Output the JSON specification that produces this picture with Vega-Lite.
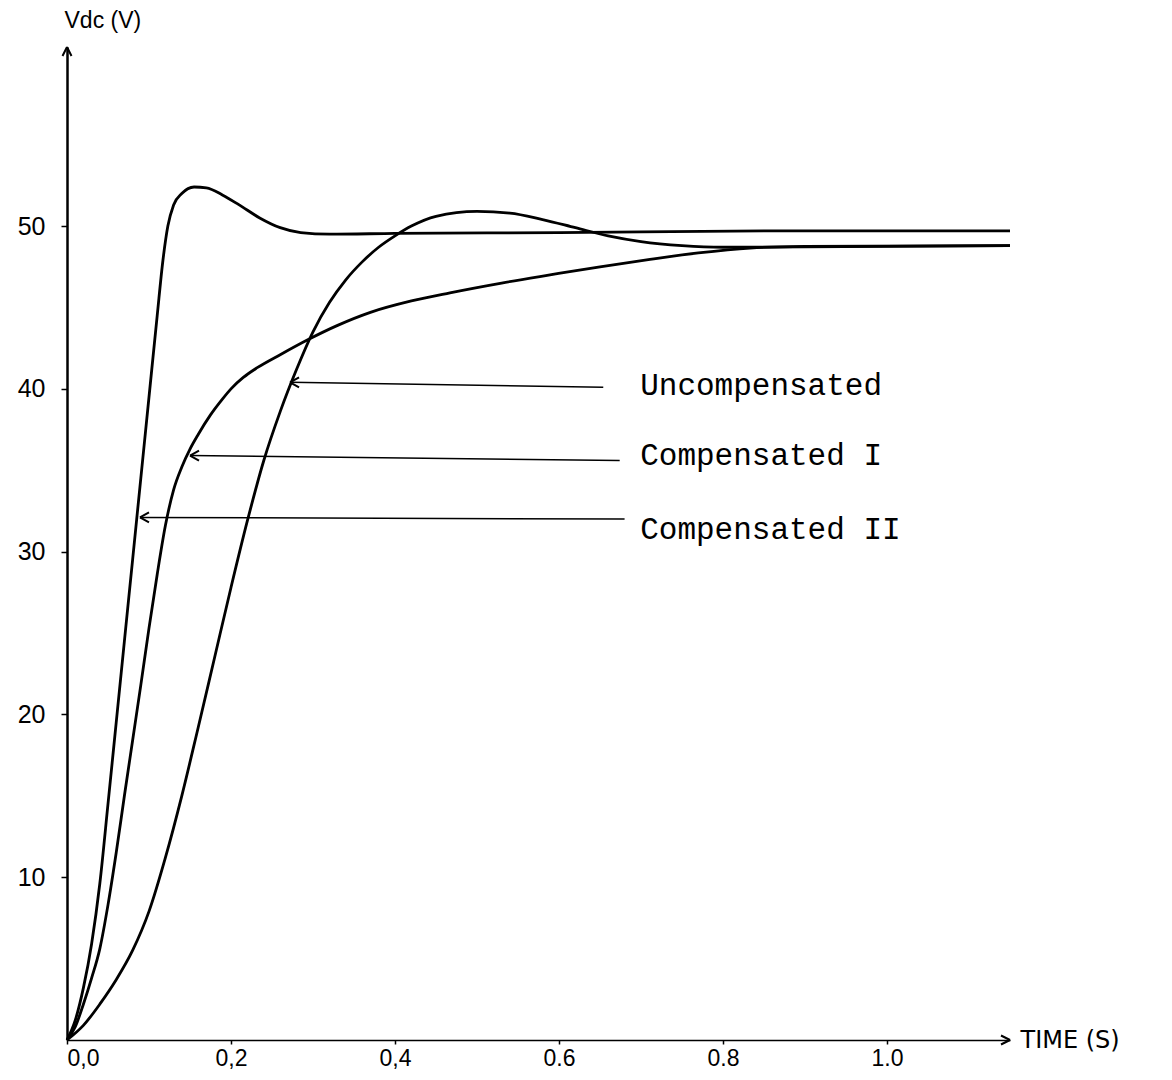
{
  "$schema": "https://vega.github.io/schema/vega-lite/v6.json",
  "width": 943,
  "height": 993,
  "autosize": {"type": "none"},
  "padding": {"left": 67, "top": 47, "right": 162, "bottom": 40},
  "background": "white",
  "config": {"view": {"stroke": null}, "axis": {"grid": false}},
  "datasets": {
    "curves": [
      {"series": "Compensated II", "t": 0, "v": 0},
      {"series": "Compensated II", "t": 0.010, "v": 1.2},
      {"series": "Compensated II", "t": 0.020, "v": 3.2},
      {"series": "Compensated II", "t": 0.030, "v": 5.9},
      {"series": "Compensated II", "t": 0.040, "v": 9.6},
      {"series": "Compensated II", "t": 0.050, "v": 14.5},
      {"series": "Compensated II", "t": 0.060, "v": 19.5},
      {"series": "Compensated II", "t": 0.070, "v": 24.5},
      {"series": "Compensated II", "t": 0.080, "v": 29.5},
      {"series": "Compensated II", "t": 0.090, "v": 34.5},
      {"series": "Compensated II", "t": 0.100, "v": 39.5},
      {"series": "Compensated II", "t": 0.110, "v": 44.5},
      {"series": "Compensated II", "t": 0.117, "v": 47.9},
      {"series": "Compensated II", "t": 0.123, "v": 50.0},
      {"series": "Compensated II", "t": 0.130, "v": 51.3},
      {"series": "Compensated II", "t": 0.140, "v": 52.0},
      {"series": "Compensated II", "t": 0.155, "v": 52.4},
      {"series": "Compensated II", "t": 0.170, "v": 52.35},
      {"series": "Compensated II", "t": 0.190, "v": 51.9},
      {"series": "Compensated II", "t": 0.210, "v": 51.3},
      {"series": "Compensated II", "t": 0.235, "v": 50.5},
      {"series": "Compensated II", "t": 0.260, "v": 49.9},
      {"series": "Compensated II", "t": 0.285, "v": 49.6},
      {"series": "Compensated II", "t": 0.320, "v": 49.5},
      {"series": "Compensated II", "t": 0.400, "v": 49.55},
      {"series": "Compensated II", "t": 0.600, "v": 49.6},
      {"series": "Compensated II", "t": 0.850, "v": 49.7},
      {"series": "Compensated II", "t": 1.150, "v": 49.7},
      {"series": "Compensated I", "t": 0, "v": 0},
      {"series": "Compensated I", "t": 0.010, "v": 0.8},
      {"series": "Compensated I", "t": 0.020, "v": 2.2},
      {"series": "Compensated I", "t": 0.030, "v": 3.8},
      {"series": "Compensated I", "t": 0.040, "v": 5.6},
      {"series": "Compensated I", "t": 0.050, "v": 8.3},
      {"series": "Compensated I", "t": 0.060, "v": 11.5},
      {"series": "Compensated I", "t": 0.070, "v": 15.0},
      {"series": "Compensated I", "t": 0.080, "v": 18.4},
      {"series": "Compensated I", "t": 0.090, "v": 21.8},
      {"series": "Compensated I", "t": 0.100, "v": 25.3},
      {"series": "Compensated I", "t": 0.110, "v": 28.6},
      {"series": "Compensated I", "t": 0.120, "v": 31.6},
      {"series": "Compensated I", "t": 0.130, "v": 33.8},
      {"series": "Compensated I", "t": 0.140, "v": 35.2},
      {"series": "Compensated I", "t": 0.150, "v": 36.3},
      {"series": "Compensated I", "t": 0.160, "v": 37.2},
      {"series": "Compensated I", "t": 0.175, "v": 38.4},
      {"series": "Compensated I", "t": 0.190, "v": 39.4},
      {"series": "Compensated I", "t": 0.200, "v": 40.0},
      {"series": "Compensated I", "t": 0.215, "v": 40.7},
      {"series": "Compensated I", "t": 0.232, "v": 41.3},
      {"series": "Compensated I", "t": 0.260, "v": 42.1},
      {"series": "Compensated I", "t": 0.293, "v": 43.0},
      {"series": "Compensated I", "t": 0.330, "v": 43.9},
      {"series": "Compensated I", "t": 0.370, "v": 44.7},
      {"series": "Compensated I", "t": 0.420, "v": 45.4},
      {"series": "Compensated I", "t": 0.467, "v": 45.9},
      {"series": "Compensated I", "t": 0.530, "v": 46.5},
      {"series": "Compensated I", "t": 0.589, "v": 47.0},
      {"series": "Compensated I", "t": 0.650, "v": 47.5},
      {"series": "Compensated I", "t": 0.711, "v": 47.95},
      {"series": "Compensated I", "t": 0.770, "v": 48.35},
      {"series": "Compensated I", "t": 0.833, "v": 48.65},
      {"series": "Compensated I", "t": 0.900, "v": 48.75},
      {"series": "Compensated I", "t": 1.150, "v": 48.8},
      {"series": "Uncompensated", "t": 0, "v": 0},
      {"series": "Uncompensated", "t": 0.020, "v": 0.9},
      {"series": "Uncompensated", "t": 0.040, "v": 2.2},
      {"series": "Uncompensated", "t": 0.060, "v": 3.7},
      {"series": "Uncompensated", "t": 0.080, "v": 5.5},
      {"series": "Uncompensated", "t": 0.100, "v": 7.9},
      {"series": "Uncompensated", "t": 0.120, "v": 11.2},
      {"series": "Uncompensated", "t": 0.140, "v": 15.0},
      {"series": "Uncompensated", "t": 0.160, "v": 19.2},
      {"series": "Uncompensated", "t": 0.180, "v": 23.5},
      {"series": "Uncompensated", "t": 0.200, "v": 27.8},
      {"series": "Uncompensated", "t": 0.220, "v": 31.9},
      {"series": "Uncompensated", "t": 0.240, "v": 35.6},
      {"series": "Uncompensated", "t": 0.260, "v": 38.6},
      {"series": "Uncompensated", "t": 0.280, "v": 41.2},
      {"series": "Uncompensated", "t": 0.300, "v": 43.5},
      {"series": "Uncompensated", "t": 0.320, "v": 45.3},
      {"series": "Uncompensated", "t": 0.340, "v": 46.7},
      {"series": "Uncompensated", "t": 0.360, "v": 47.8},
      {"series": "Uncompensated", "t": 0.380, "v": 48.7},
      {"series": "Uncompensated", "t": 0.400, "v": 49.4},
      {"series": "Uncompensated", "t": 0.420, "v": 50.0},
      {"series": "Uncompensated", "t": 0.450, "v": 50.6},
      {"series": "Uncompensated", "t": 0.500, "v": 50.9},
      {"series": "Uncompensated", "t": 0.540, "v": 50.8},
      {"series": "Uncompensated", "t": 0.580, "v": 50.4},
      {"series": "Uncompensated", "t": 0.620, "v": 49.9},
      {"series": "Uncompensated", "t": 0.660, "v": 49.4},
      {"series": "Uncompensated", "t": 0.700, "v": 49.05},
      {"series": "Uncompensated", "t": 0.750, "v": 48.8},
      {"series": "Uncompensated", "t": 0.800, "v": 48.7},
      {"series": "Uncompensated", "t": 1.150, "v": 48.8}
    ],
    "notes": [
      {"label": "Uncompensated", "t": 0.699, "v": 40.2},
      {"label": "Compensated I", "t": 0.699, "v": 35.9},
      {"label": "Compensated II", "t": 0.699, "v": 31.3}
    ],
    "leaders": [
      {"t": 0.654, "v": 40.1, "t2": 0.272, "v2": 40.4},
      {"t": 0.674, "v": 35.6, "t2": 0.150, "v2": 35.9},
      {"t": 0.680, "v": 32.0, "t2": 0.089, "v2": 32.1}
    ],
    "heads": [
      {"t": 0.272, "v": 40.4, "dir": "left"},
      {"t": 0.150, "v": 35.9, "dir": "left"},
      {"t": 0.089, "v": 32.1, "dir": "left"},
      {"t": 0, "v": 61, "dir": "up"},
      {"t": 1.15, "v": 0, "dir": "right"}
    ]
  },
  "layer": [
    {
      "data": {"name": "curves"},
      "mark": {"type": "line", "interpolate": "monotone", "strokeWidth": 2.8, "color": "black", "clip": false},
      "encoding": {
        "x": {
          "field": "t", "type": "quantitative",
          "scale": {"domain": [0, 1.15], "nice": false, "zero": false},
          "axis": {
            "title": "TIME (S)",
            "values": [0, 0.2, 0.4, 0.6, 0.8, 1.0],
            "format": ".1f",
            "labelExpr": "datum.value < 0.5 ? replace(datum.label, '.', ',') : datum.label",
            "domainColor": "black", "domainWidth": 1.5,
            "tickColor": "black", "tickSize": 4, "tickWidth": 1.5,
            "labelFont": "Liberation Sans", "labelFontSize": 23, "labelColor": "black", "labelPadding": 3,
            "titleFont": "DejaVu Sans", "titleFontSize": 24, "titleFontWeight": "normal", "titleColor": "black",
            "titleAlign": "left", "titleBaseline": "middle", "titleX": 953, "titleY": 0
          }
        },
        "y": {
          "field": "v", "type": "quantitative",
          "scale": {"domain": [0, 61], "nice": false},
          "axis": {
            "title": "Vdc (V)",
            "values": [10, 20, 30, 40, 50],
            "domainColor": "black", "domainWidth": 2.5,
            "tickColor": "black", "tickSize": 6, "tickWidth": 1.5,
            "labelFont": "Liberation Sans", "labelFontSize": 25, "labelColor": "black", "labelPadding": 16,
            "titleFont": "Liberation Sans", "titleFontSize": 23, "titleFontWeight": "normal", "titleColor": "black",
            "titleAngle": 0, "titleAlign": "left", "titleBaseline": "top", "titleX": -3, "titleY": -38
          }
        },
        "detail": {"field": "series", "type": "nominal"}
      }
    },
    {
      "data": {"name": "leaders"},
      "mark": {"type": "rule", "strokeWidth": 1.5, "color": "black"},
      "encoding": {
        "x": {"field": "t", "type": "quantitative"},
        "x2": {"field": "t2"},
        "y": {"field": "v", "type": "quantitative"},
        "y2": {"field": "v2"}
      }
    },
    {
      "data": {"name": "heads"},
      "mark": {"type": "point", "filled": false, "size": 100, "strokeWidth": 2, "color": "black", "opacity": 1, "clip": false},
      "encoding": {
        "x": {"field": "t", "type": "quantitative"},
        "y": {"field": "v", "type": "quantitative"},
        "shape": {
          "field": "dir", "type": "nominal", "legend": null,
          "scale": {
            "domain": ["left", "up", "right"],
            "range": ["M0,0L1.8,-1M0,0L1.8,1", "M0,0L-0.9,1.8M0,0L0.9,1.8", "M0,0L-1.8,-0.9M0,0L-1.8,0.9"]
          }
        }
      }
    },
    {
      "data": {"name": "notes"},
      "mark": {"type": "text", "font": "Liberation Mono", "fontSize": 31, "align": "left", "baseline": "middle", "color": "black"},
      "encoding": {
        "x": {"field": "t", "type": "quantitative"},
        "y": {"field": "v", "type": "quantitative"},
        "text": {"field": "label"}
      }
    }
  ]
}
